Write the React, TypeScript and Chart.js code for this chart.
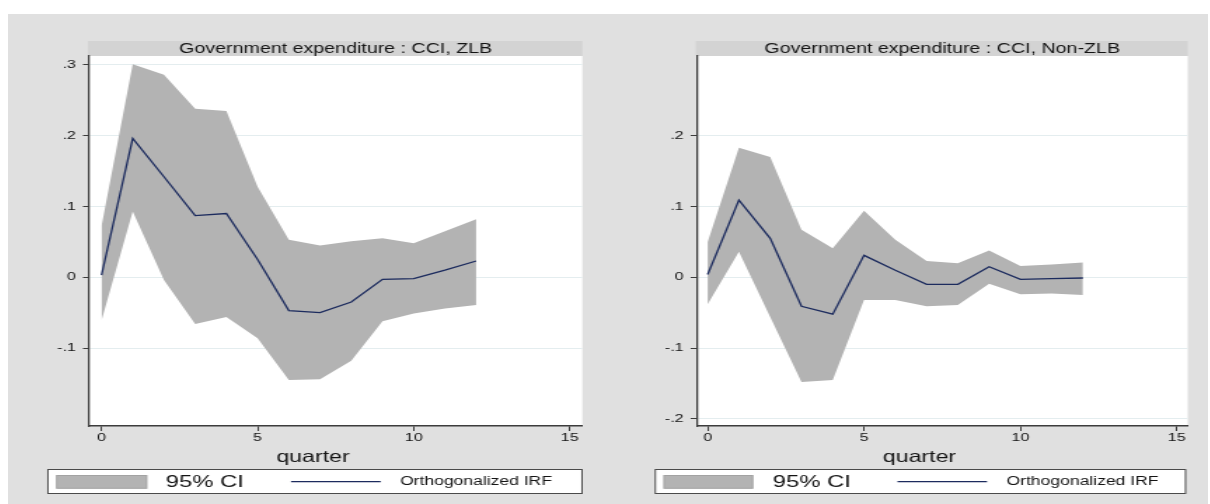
import React, { useEffect, useRef } from "react";
import { Chart, registerables } from "chart.js";

Chart.register(...registerables);

// Impulse responses by quarter
const quarters = [0, 1, 2, 3, 4, 5, 6, 7, 8, 9, 10, 11, 12];

const zlbIrf = [0.003, 0.196, 0.142, 0.087, 0.09, 0.025, -0.047, -0.05, -0.035, -0.003, -0.002, 0.01, 0.023];
const zlbUpper = [0.072, 0.301, 0.286, 0.238, 0.235, 0.128, 0.053, 0.045, 0.051, 0.055, 0.048, 0.065, 0.082];
const zlbLower = [-0.061, 0.093, -0.004, -0.066, -0.056, -0.086, -0.145, -0.144, -0.118, -0.062, -0.051, -0.044, -0.039];

const nonZlbIrf = [0.004, 0.109, 0.055, -0.041, -0.052, 0.031, 0.01, -0.01, -0.01, 0.015, -0.003, -0.002, -0.001];
const nonZlbUpper = [0.05, 0.183, 0.17, 0.067, 0.041, 0.094, 0.053, 0.023, 0.02, 0.038, 0.016, 0.018, 0.021];
const nonZlbLower = [-0.038, 0.036, -0.056, -0.148, -0.145, -0.032, -0.032, -0.041, -0.039, -0.009, -0.024, -0.023, -0.025];

const zlbYTicks = [-0.1, 0, 0.1, 0.2, 0.3];
const nonZlbYTicks = [-0.2, -0.1, 0, 0.1, 0.2];
const xTicks = [0, 5, 10, 15];

const zlbTitle = "Government expenditure : CCI, ZLB";
const nonZlbTitle = "Government expenditure : CCI, Non-ZLB";
const ciLabel = "95% CI";
const irfLabel = "Orthogonalized IRF";
const xTitle = "quarter";

// Panel canvases are drawn narrow and widened horizontally
const CW = 428;
const PANEL_W = 600;
const SX = PANEL_W / CW;
const H = 490;
const FONT = "'Liberation Sans', Arial, Helvetica, sans-serif";

const BG = "#e0e0e0";
const BAND = "#d3d3d3";
const CI_FILL = "#b3b3b3";
const IRF_COLOR = "#1c2b5e";
const TEXT = "#141414";
const AXIS = "#3c3c3c";
const GRID = "#e4edef";

type Geo = {
  left: number;
  plotL: number;
  plotR: number;
  legL: number;
  legR: number;
  swL: number;
  swR: number;
  ciX: number;
  lnL: number;
  lnR: number;
  irfX: number;
  qX: number;
  xMin: number;
  xMax: number;
};

const leftGeo: Geo = {
  left: 0, plotL: 81, plotR: 574.3, legL: 39.9, legR: 574, swL: 48.7, swR: 138.7,
  ciX: 157.7, lnL: 283, lnR: 372.7, irfX: 392, qX: 305, xMin: -0.4, xMax: 15.4,
};
const rightGeo: Geo = {
  left: 600, plotL: 88.7, plotR: 579.7, legL: 47.3, legR: 577.5, swL: 56, swR: 144.7,
  ciX: 164.7, lnL: 289.5, lnR: 379, irfX: 398.5, qX: 311.5, xMin: -0.35, xMax: 15.35,
};

const fmtY = (v: number) => {
  const r = Math.round(v * 10) / 10;
  if (r === 0) return "0";
  return (r < 0 ? "-" : "") + Math.abs(r).toFixed(1).replace(/^0/, "");
};

type PanelProps = {
  title: string;
  irf: number[];
  upper: number[];
  lower: number[];
  yTicks: number[];
  geo: Geo;
};

function Panel({ title, irf, upper, lower, yTicks, geo }: PanelProps) {
  const ref = useRef<HTMLCanvasElement>(null);

  useEffect(() => {
    const cx = (v: number) => v / SX;
    const pts = (arr: number[]) => quarters.map((q, i) => ({ x: q, y: arr[i] }));

    const decor = {
      id: "decor",
      beforeDraw(chart: any) {
        const { ctx, chartArea: ca } = chart;
        ctx.save();
        ctx.fillStyle = "#ffffff";
        ctx.fillRect(ca.left, ca.top, ca.right - ca.left, ca.bottom - ca.top);
        ctx.fillStyle = BAND;
        ctx.fillRect(ca.left - cx(1), 27, ca.right - ca.left + cx(1), ca.top - 27);
        ctx.fillStyle = TEXT;
        ctx.font = `14px ${FONT}`;
        ctx.textAlign = "center";
        ctx.textBaseline = "middle";
        ctx.fillText(title, (ca.left + ca.right) / 2, 35);
        ctx.restore();
      },
      afterDraw(chart: any) {
        const { ctx } = chart;
        ctx.save();
        // axis title
        ctx.fillStyle = TEXT;
        ctx.font = `16.5px ${FONT}`;
        ctx.textAlign = "center";
        ctx.textBaseline = "alphabetic";
        ctx.fillText(xTitle, cx(geo.qX), 447.7);

        // legend box
        const top = 455;
        const bot = 479;
        ctx.fillStyle = "#ffffff";
        ctx.fillRect(cx(geo.legL), top, cx(geo.legR - geo.legL), bot - top);
        ctx.strokeStyle = "#4a4a4a";
        ctx.lineWidth = 1;
        ctx.strokeRect(cx(geo.legL), top + 0.5, cx(geo.legR - geo.legL), bot - top);

        // CI swatch
        ctx.fillStyle = CI_FILL;
        ctx.fillRect(cx(geo.swL), 461, cx(geo.swR - geo.swL), 13.3);
        ctx.strokeStyle = "#a2a2a2";
        ctx.strokeRect(cx(geo.swL), 461.5, cx(geo.swR - geo.swL), 12.8);

        ctx.fillStyle = TEXT;
        ctx.textAlign = "left";
        ctx.textBaseline = "middle";
        ctx.font = `17px ${FONT}`;
        ctx.fillText(ciLabel, cx(geo.ciX), 468);

        // IRF line sample
        ctx.strokeStyle = IRF_COLOR;
        ctx.lineWidth = 1.3;
        ctx.beginPath();
        ctx.moveTo(cx(geo.lnL), 467.7);
        ctx.lineTo(cx(geo.lnR), 467.7);
        ctx.stroke();

        ctx.font = `12.5px ${FONT}`;
        ctx.fillText(irfLabel, cx(geo.irfX), 468);
        ctx.restore();
      },
    };

    const tickFont = { family: FONT, size: 11.5 };

    const chart = new Chart(ref.current!, {
      type: "line",
      data: {
        datasets: [
          {
            label: irfLabel,
            data: pts(irf),
            fill: false,
            borderColor: IRF_COLOR,
            borderWidth: 1.3,
            pointRadius: 0,
            tension: 0,
            order: 0,
          },
          {
            label: ciLabel,
            data: pts(upper),
            fill: "+1",
            backgroundColor: CI_FILL,
            borderColor: "transparent",
            borderWidth: 0,
            pointRadius: 0,
            tension: 0,
            order: 1,
          },
          {
            label: ciLabel + " lower",
            data: pts(lower),
            fill: false,
            borderColor: "transparent",
            borderWidth: 0,
            pointRadius: 0,
            tension: 0,
            order: 2,
          },
        ],
      },
      options: {
        animation: false,
        responsive: false,
        devicePixelRatio: 1,
        events: [],
        layout: {
          padding: { top: 42, right: CW - cx(geo.plotR), left: 0, bottom: 0 },
        },
        plugins: {
          legend: { display: false },
          tooltip: { enabled: false },
          title: { display: false },
        },
        scales: {
          x: {
            type: "linear",
            min: geo.xMin,
            max: geo.xMax,
            afterBuildTicks: (s: any) => {
              s.ticks = xTicks.map((v) => ({ value: v }));
            },
            afterFit: (s: any) => {
              s.height = H - 412;
              s.paddingLeft = 0;
              s.paddingRight = 0;
            },
            grid: {
              drawOnChartArea: false,
              drawTicks: true,
              tickLength: 5,
              tickColor: AXIS,
              tickWidth: 1,
            },
            border: { color: AXIS, width: 1.4 },
            ticks: {
              padding: 0,
              font: tickFont,
              color: TEXT,
              maxRotation: 0,
              autoSkip: false,
            },
          },
          y: {
            type: "linear",
            min: -0.21,
            max: 0.3125,
            afterBuildTicks: (s: any) => {
              s.ticks = yTicks.map((v) => ({ value: v }));
            },
            afterFit: (s: any) => {
              s.width = cx(geo.plotL);
              s.paddingTop = 0;
              s.paddingBottom = 0;
            },
            grid: {
              color: GRID,
              lineWidth: 1,
              drawTicks: true,
              tickLength: 4.3,
              tickColor: AXIS,
              tickWidth: 1,
            },
            border: { color: AXIS, width: 1.3 },
            ticks: {
              padding: 5,
              font: tickFont,
              color: TEXT,
              autoSkip: false,
              callback: (v: any) => fmtY(Number(v)),
            },
          },
        },
      },
      plugins: [decor],
    } as any);

    return () => chart.destroy();
  }, []);

  return (
    <div
      style={{
        position: "absolute",
        left: geo.left,
        top: 0,
        width: CW,
        height: H,
        transform: `scaleX(${SX})`,
        transformOrigin: "0 0",
      }}
    >
      <canvas ref={ref} width={CW} height={H} style={{ display: "block" }} />
    </div>
  );
}

export default function App() {
  return (
    <div
      style={{
        position: "fixed",
        left: 8,
        top: 14,
        width: 1200,
        height: H,
        background: BG,
        overflow: "hidden",
      }}
    >
      <Panel title={zlbTitle} irf={zlbIrf} upper={zlbUpper} lower={zlbLower} yTicks={zlbYTicks} geo={leftGeo} />
      <Panel
        title={nonZlbTitle}
        irf={nonZlbIrf}
        upper={nonZlbUpper}
        lower={nonZlbLower}
        yTicks={nonZlbYTicks}
        geo={rightGeo}
      />
    </div>
  );
}
